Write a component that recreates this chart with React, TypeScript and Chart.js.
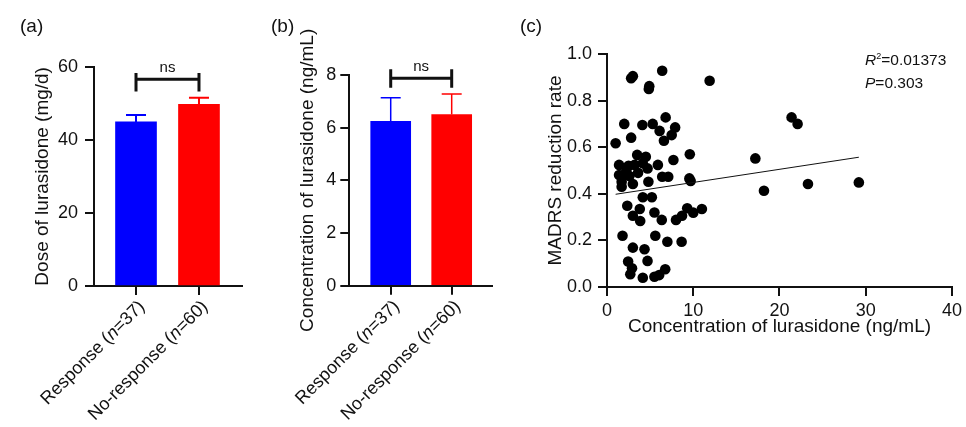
import React, { useEffect, useRef } from 'react';
import { Chart, registerables } from 'chart.js';

Chart.register(...registerables);

const FONT = "'Liberation Sans', Arial, Helvetica, sans-serif";
const INK = '#111111';

// ---------- data ----------
const groupLabels: string[][] = [
  ['Response (', 'n', '=37)'],
  ['No-response (', 'n', '=60)'],
];
const groupColors = ['#0000FF', '#FF0000'];

const doseMeans = [44.9, 49.7];
const doseErrors = [1.9, 1.8];
const doseBracket = { level: 56.6, top: 58.3, bottom: 53.2, label: 'ns' };

const concMeans = [6.24, 6.5];
const concErrors = [0.9, 0.78];
const concBracket = { level: 7.88, top: 8.22, bottom: 7.52, label: 'ns' };

const scatterX = [
  2.8, 3.0, 6.4, 4.9, 4.85, 11.9, 2.0, 4.1, 5.3, 6.8,
  6.1, 7.9, 7.5, 2.8, 6.6, 1.0, 9.6, 7.7, 3.5, 4.5,
  1.4, 3.2, 4.15, 4.7, 5.9, 2.25, 1.4, 2.6, 3.0, 1.7,
  1.7, 4.8, 6.4, 7.1, 9.55, 9.7, 4.15, 5.2, 2.35, 3.8,
  3.0, 3.85, 5.5, 6.35, 8.0, 8.7, 9.3, 10.0, 11.0, 1.8,
  5.6, 7.0, 8.65, 3.0, 4.35, 2.45, 4.7, 2.9, 2.7, 4.15,
  5.5, 6.05, 6.75, 21.4, 22.1, 17.2, 18.2, 23.3, 29.2, 1.9,
  3.6, 2.5,
];
const scatterY = [
  0.896, 0.905, 0.928, 0.862, 0.85, 0.885, 0.70, 0.695, 0.70, 0.728,
  0.67, 0.685, 0.652, 0.641, 0.628, 0.617, 0.57, 0.545, 0.567, 0.559,
  0.524, 0.524, 0.531, 0.509, 0.524, 0.502, 0.481, 0.476, 0.442, 0.452,
  0.43, 0.452, 0.473, 0.473, 0.466, 0.455, 0.385, 0.385, 0.349, 0.335,
  0.306, 0.283, 0.32, 0.288, 0.288, 0.306, 0.338, 0.319, 0.335, 0.22,
  0.22, 0.194, 0.194, 0.169, 0.162, 0.109, 0.112, 0.08, 0.055, 0.04,
  0.044, 0.051, 0.076, 0.728, 0.70, 0.552, 0.413, 0.442, 0.449, 0.48,
  0.49, 0.52,
];
const fitX = [1.0, 29.2];
const fitY = [0.398, 0.557];
const rSquared = '0.01373';
const pValue = '0.303';

// ---------- helpers ----------
function barDecor(means: number[], errors: number[], bracket: any, errLineWidth: number) {
  return {
    id: 'barDecor',
    afterDatasetsDraw(chart: any) {
      const ctx = chart.ctx as CanvasRenderingContext2D;
      const xs = chart.scales.x;
      const ys = chart.scales.y;
      ctx.save();
      // error bars (upper only, with cap)
      means.forEach((m, i) => {
        const x = xs.getPixelForValue(i + 1);
        const y0 = ys.getPixelForValue(m);
        const y1 = ys.getPixelForValue(m + errors[i]);
        ctx.strokeStyle = groupColors[i];
        ctx.lineWidth = errLineWidth;
        ctx.beginPath();
        ctx.moveTo(x, y0);
        ctx.lineTo(x, y1);
        ctx.moveTo(x - 10, y1);
        ctx.lineTo(x + 10, y1);
        ctx.stroke();
      });
      // significance bracket
      const bx1 = xs.getPixelForValue(1);
      const bx2 = xs.getPixelForValue(2);
      const by = ys.getPixelForValue(bracket.level);
      const byT = ys.getPixelForValue(bracket.top);
      const byB = ys.getPixelForValue(bracket.bottom);
      ctx.strokeStyle = INK;
      ctx.lineWidth = 3;
      ctx.beginPath();
      ctx.moveTo(bx1, by);
      ctx.lineTo(bx2, by);
      ctx.moveTo(bx1, byT);
      ctx.lineTo(bx1, byB);
      ctx.moveTo(bx2, byT);
      ctx.lineTo(bx2, byB);
      ctx.stroke();
      ctx.fillStyle = INK;
      ctx.font = `15px ${FONT}`;
      ctx.textAlign = 'center';
      ctx.textBaseline = 'alphabetic';
      ctx.fillText(bracket.label, (bx1 + bx2) / 2, by - 7);
      // rotated category labels with italic n
      groupLabels.forEach((parts, i) => {
        const tx = xs.getPixelForValue(i + 1);
        const ax = tx + 6;
        const ay = xs.top + 18;
        const fonts = parts.map((_, k) => (k === 1 ? `italic 18px ${FONT}` : `18px ${FONT}`));
        const widths = parts.map((p, k) => {
          ctx.font = fonts[k];
          return ctx.measureText(p).width;
        });
        const total = widths.reduce((a, b) => a + b, 0);
        ctx.save();
        ctx.translate(ax, ay);
        ctx.rotate(-Math.PI / 4);
        ctx.textAlign = 'left';
        ctx.textBaseline = 'middle';
        let cx = -total;
        parts.forEach((p, k) => {
          ctx.font = fonts[k];
          ctx.fillText(p, cx, 0);
          cx += widths[k];
        });
        ctx.restore();
      });
      ctx.restore();
    },
  };
}

function axisStyle() {
  return {
    grid: {
      display: true,
      drawOnChartArea: false,
      drawTicks: true,
      tickLength: 9,
      color: INK,
      lineWidth: 2,
      offset: false,
    },
    border: { display: true, color: INK, width: 2 },
  };
}

function barConfig(o: any) {
  return {
    type: 'bar',
    data: {
      datasets: [
        {
          data: o.means.map((m: number, i: number) => ({ x: i + 1, y: m })),
          backgroundColor: groupColors,
          borderWidth: 0,
          barThickness: o.barThickness,
        },
      ],
    },
    options: {
      responsive: false,
      maintainAspectRatio: false,
      animation: false,
      events: [],
      layout: { padding: { left: 0, right: o.padRight, top: o.padTop, bottom: 0 } },
      plugins: { legend: { display: false }, tooltip: { enabled: false } },
      scales: {
        x: {
          type: 'linear',
          offset: false,
          min: o.xMin,
          max: o.xMax,
          afterBuildTicks: (s: any) => {
            s.ticks = o.means.map((_: number, i: number) => ({ value: i + 1 }));
          },
          afterFit: (s: any) => {
            s.height = o.xHeight;
          },
          ticks: { display: false },
          ...axisStyle(),
        },
        y: {
          type: 'linear',
          min: 0,
          max: o.yMax,
          afterFit: (s: any) => {
            s.width = o.yWidth;
          },
          ticks: {
            stepSize: o.yStep,
            font: { family: FONT, size: 18 },
            color: INK,
            padding: o.tickPad,
          },
          title: {
            display: true,
            text: o.yTitle,
            font: { family: FONT, size: 19 },
            color: INK,
            padding: { top: o.titlePad, bottom: 0 },
          },
          ...axisStyle(),
        },
      },
    },
    plugins: [barDecor(o.means, o.errors, o.bracket, o.errLineWidth)],
  };
}

function scatterConfig() {
  return {
    type: 'scatter',
    data: {
      datasets: [
        {
          data: fitX.map((x, i) => ({ x, y: fitY[i] })),
          showLine: true,
          borderColor: INK,
          borderWidth: 1,
          pointRadius: 0,
          fill: false,
        },
        {
          data: scatterX.map((x, i) => ({ x, y: scatterY[i] })),
          backgroundColor: '#000000',
          borderWidth: 0,
          pointRadius: 5.3,
          clip: false,
        },
      ],
    },
    options: {
      responsive: false,
      maintainAspectRatio: false,
      animation: false,
      events: [],
      layout: { padding: { left: 0, right: 9, top: 54, bottom: 0 } },
      plugins: { legend: { display: false }, tooltip: { enabled: false } },
      scales: {
        x: {
          type: 'linear',
          min: 0,
          max: 40,
          afterFit: (s: any) => {
            s.height = 140;
          },
          ticks: { stepSize: 10, font: { family: FONT, size: 18 }, color: INK, padding: 4 },
          title: {
            display: true,
            text: 'Concentration of lurasidone (ng/mL)',
            font: { family: FONT, size: 19 },
            color: INK,
            padding: { top: 0, bottom: 88.6 },
          },
          ...axisStyle(),
        },
        y: {
          type: 'linear',
          min: 0,
          max: 1,
          afterFit: (s: any) => {
            s.width = 107;
          },
          ticks: {
            stepSize: 0.2,
            font: { family: FONT, size: 18 },
            color: INK,
            padding: 6,
            callback: (v: any) => Number(v).toFixed(1),
          },
          title: {
            display: true,
            text: 'MADRS reduction rate',
            font: { family: FONT, size: 19 },
            color: INK,
            padding: { top: 44.6, bottom: 0 },
          },
          ...axisStyle(),
        },
      },
    },
  };
}

function ChartBox({ left, width, make }: { left: number; width: number; make: () => any }) {
  const ref = useRef<HTMLCanvasElement>(null);
  useEffect(() => {
    const chart = new Chart(ref.current as HTMLCanvasElement, make());
    return () => chart.destroy();
  }, []);
  return (
    <div style={{ position: 'absolute', left, top: 0, width, height: 427 }}>
      <canvas ref={ref} width={width} height={427} style={{ display: 'block', width, height: 427 }} />
    </div>
  );
}

const panelLabelStyle: React.CSSProperties = {
  position: 'absolute',
  top: 16,
  fontFamily: FONT,
  fontSize: 19,
  lineHeight: '20px',
  color: INK,
};

export default function App() {
  return (
    <div
      style={{
        position: 'absolute',
        left: 0,
        top: 0,
        width: 966,
        height: 427,
        background: '#ffffff',
        overflow: 'hidden',
        fontFamily: FONT,
      }}
    >
      <ChartBox
        left={0}
        width={250}
        make={() =>
          barConfig({
            means: doseMeans,
            errors: doseErrors,
            bracket: doseBracket,
            yMax: 60,
            yStep: 20,
            yTitle: 'Dose of lurasidone (mg/d)',
            xMin: 0.333,
            xMax: 2.683,
            barThickness: 41,
            padRight: 8,
            padTop: 66.7,
            yWidth: 94,
            xHeight: 141,
            titlePad: 31.6,
            tickPad: 7,
            errLineWidth: 2,
          })
        }
      />
      <ChartBox
        left={250}
        width={266}
        make={() =>
          barConfig({
            means: concMeans,
            errors: concErrors,
            bracket: concBracket,
            yMax: 8,
            yStep: 2,
            yTitle: 'Concentration of lurasidone (ng/mL)',
            xMin: 0.321,
            xMax: 2.656,
            barThickness: 40,
            padRight: 24.3,
            padTop: 75,
            yWidth: 99.3,
            xHeight: 141.3,
            titlePad: 46.6,
            tickPad: 4,
            errLineWidth: 1.5,
          })
        }
      />
      <ChartBox left={500} width={466} make={scatterConfig} />
      <div style={{ ...panelLabelStyle, left: 20 }}>(a)</div>
      <div style={{ ...panelLabelStyle, left: 271 }}>(b)</div>
      <div style={{ ...panelLabelStyle, left: 520 }}>(c)</div>
      <div
        style={{
          position: 'absolute',
          left: 865,
          top: 50,
          fontFamily: FONT,
          fontSize: 15.5,
          lineHeight: '19.5px',
          color: INK,
          whiteSpace: 'nowrap',
        }}
      >
        <div>
          <i>R</i>
          <span style={{ fontSize: 9, position: 'relative', top: -6 }}>2</span>={rSquared}
        </div>
        <div>
          <i>P</i>={pValue}
        </div>
      </div>
    </div>
  );
}
